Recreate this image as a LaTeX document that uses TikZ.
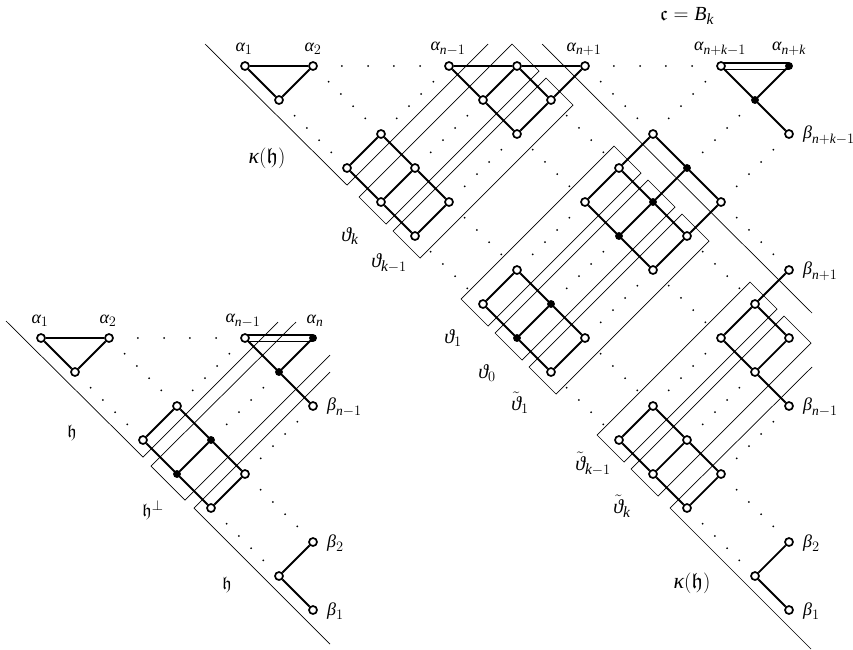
\documentclass[tikz,border=0pt]{standalone}
\usetikzlibrary{backgrounds}
\usepackage{amsmath,amssymb}
\usepackage{fontspec}
\setmainfont{Liberation Serif}
\DeclareMathSizes{18}{18}{13.5}{10}
\DeclareMathSizes{20}{20}{15.5}{11}
\DeclareMathSizes{22}{22}{16}{11}
\newcommand{\Ga}{\hbox{\itshape α}}
\newcommand{\Gb}{\hbox{\itshape β}}
\newcommand{\Gt}{\hbox{\itshape ϑ}}
\newcommand{\Gk}{\hbox{\itshape κ}}
\newcommand{\NN}{\mathit{n}}
\newcommand{\KK}{\mathit{k}}
\tikzset{
  x=1pt,y=-1pt,
  thinline/.style={line width=0.7pt,black},
  edge/.style={line width=1.8pt,black},
  dbl/.style={line width=1.4pt,black,double=white,double distance=5pt,shorten <=-4pt,shorten >=-4pt},
  opn/.style={circle,draw=black,fill=white,line width=1.7pt,inner sep=0pt,minimum size=8pt},
  fil/.style={circle,draw=black,fill=black,line width=0.8pt,inner sep=0pt,minimum size=7pt},
  lab/.style={inner sep=0pt,font=\fontsize{18}{21}\selectfont},
  labr/.style={lab,anchor=west},
  labb/.style={inner sep=0pt,font=\fontsize{20}{23}\selectfont},
  labk/.style={inner sep=0pt,font=\fontsize{22}{25}\selectfont},
}
\begin{document}
\begin{tikzpicture}
\useasboundingbox (0,0) rectangle (853,649);
% thin region lines
\coordinate (ka) at (205,44); \coordinate (kb) at (347,185); \coordinate (kc) at (488,44);
\draw[thinline] (ka) -- (kb) -- (kc);
\coordinate (ra1) at (512,44); \coordinate (ra2) at (539,71); \coordinate (ra3) at (386,224); \coordinate (ra4) at (359,197);
\draw[thinline] (ra1) -- (ra2) -- (ra3) -- (ra4) -- cycle;
\coordinate (rb1) at (546,78); \coordinate (rb2) at (573,105); \coordinate (rb3) at (420,258); \coordinate (rb4) at (393,231);
\draw[thinline] (rb1) -- (rb2) -- (rb3) -- (rb4) -- cycle;
\coordinate (m1) at (542,44); \coordinate (m2) at (812,313);
\draw[thinline] (m1) -- (m2);
\coordinate (rc1) at (614,146); \coordinate (rc2) at (641,173); \coordinate (rc3) at (488,326); \coordinate (rc4) at (461,299);
\draw[thinline] (rc1) -- (rc2) -- (rc3) -- (rc4) -- cycle;
\coordinate (rd1) at (648,180); \coordinate (rd2) at (675,207); \coordinate (rd3) at (522,360); \coordinate (rd4) at (495,333);
\draw[thinline] (rd1) -- (rd2) -- (rd3) -- (rd4) -- cycle;
\coordinate (re1) at (682,214); \coordinate (re2) at (709,241); \coordinate (re3) at (556,394); \coordinate (re4) at (529,367);
\draw[thinline] (re1) -- (re2) -- (re3) -- (re4) -- cycle;
\coordinate (rf1) at (750,282); \coordinate (rf2) at (777,309); \coordinate (rf3) at (624,462); \coordinate (rf4) at (597,435);
\draw[thinline] (rf1) -- (rf2) -- (rf3) -- (rf4) -- cycle;
\coordinate (rg1) at (784,316); \coordinate (rg2) at (811,343); \coordinate (rg3) at (658,496); \coordinate (rg4) at (631,469);
\draw[thinline] (rg1) -- (rg2) -- (rg3) -- (rg4) -- cycle;
\coordinate (ea) at (812,367); \coordinate (eb) at (670,508); \coordinate (ec) at (811,649);
\draw[thinline] (ea) -- (eb) -- (ec);
% left picture thin lines
\coordinate (la) at (6,321); \coordinate (lb) at (143,457); \coordinate (lc) at (278,322);
\draw[thinline] (la) -- (lb) -- (lc);
\coordinate (pa) at (296,322); \coordinate (pb) at (151,466); \coordinate (pc) at (185,500); \coordinate (pd) at (330,355);
\draw[thinline] (pa) -- (pb) -- (pc) -- (pd);
\coordinate (qa) at (330,372); \coordinate (qb) at (194,508); \coordinate (qc) at (330,644);
\draw[thinline] (qa) -- (qb) -- (qc);
% dots
\foreach \a/\b/\c/\d in {313/66/449/66,585/66/721/66,109/338/245/338}
  \foreach \t in {0.213,0.405,0.595,0.787}
    \fill ({\a+\t*(\c-\a)},{\b+\t*(\d-\b)}) circle (1pt);
\foreach \a/\b/\c/\d in {
  313/66/381/134,449/66/381/134,279/100/347/168,483/100/415/168,
  517/134/449/202,449/202/517/270,415/236/483/304,585/66/653/134,
  721/66/653/134,551/100/619/168,517/134/585/202,755/100/687/168,
  789/134/721/202,585/202/517/270,619/236/551/304,653/270/585/338,
  721/202/789/270,687/236/755/304,653/270/721/338,585/338/653/406,
  551/372/619/440,721/338/653/406,755/372/687/440,789/406/721/474,
  721/474/789/542,687/508/755/576,
  109/338/177/406,245/338/177/406,75/372/143/440,279/372/211/440,
  313/406/245/474,245/474/313/542,211/508/279/576}
  \foreach \t in {0.23,0.41,0.59,0.77}
    \fill ({\a+\t*(\c-\a)},{\b+\t*(\d-\b)}) circle (1pt);
% open nodes
\foreach \x/\y in {245/66,313/66,279/100,449/66,517/66,483/100,517/134,585/66,551/100,
  721/66,789/134,381/134,347/168,415/168,381/202,449/202,415/236,
  653/134,619/168,585/202,721/202,687/236,653/270,789/270,755/304,
  517/270,483/304,585/338,551/372,721/338,789/338,755/372,789/406,
  653/406,619/440,687/440,653/474,721/474,687/508,789/542,755/576,789/610,
  41/338,109/338,75/372,245/338,313/406,177/406,143/440,245/474,211/508,313/542,279/576,313/610}
  \node[opn] (p\x-\y) at (\x,\y) {};
% filled nodes
\foreach \x/\y in {789/66,755/100,687/168,653/202,619/236,551/304,517/338,
  313/338,279/372,211/440,177/474}
  \node[fil] (p\x-\y) at (\x,\y) {};
% double edges, behind the nodes
\begin{scope}[on background layer]
\draw[dbl] (p721-66) -- (p789-66);
\draw[dbl] (p245-338) -- (p313-338);
\end{scope}
% edges, big picture
\draw[edge] (p245-66) -- (p313-66);
\draw[edge] (p245-66) -- (p279-100) -- (p313-66);
\draw[edge] (p449-66) -- (p517-66);
\draw[edge] (p517-66) -- (p585-66);
\draw[edge] (p449-66) -- (p483-100);
\draw[edge] (p483-100) -- (p517-134);
\draw[edge] (p517-66) -- (p483-100);
\draw[edge] (p517-66) -- (p551-100);
\draw[edge] (p585-66) -- (p551-100);
\draw[edge] (p551-100) -- (p517-134);
\draw[edge] (p721-66) -- (p755-100);
\draw[edge] (p789-66) -- (p755-100);
\draw[edge] (p755-100) -- (p789-134);
\draw[edge] (p381-134) -- (p347-168);
\draw[edge] (p381-134) -- (p415-168);
\draw[edge] (p415-168) -- (p449-202);
\draw[edge] (p347-168) -- (p381-202);
\draw[edge] (p381-202) -- (p415-236);
\draw[edge] (p415-168) -- (p381-202);
\draw[edge] (p449-202) -- (p415-236);
\draw[edge] (p653-134) -- (p619-168);
\draw[edge] (p619-168) -- (p585-202);
\draw[edge] (p653-134) -- (p687-168);
\draw[edge] (p687-168) -- (p721-202);
\draw[edge] (p619-168) -- (p653-202);
\draw[edge] (p653-202) -- (p687-236);
\draw[edge] (p585-202) -- (p619-236);
\draw[edge] (p619-236) -- (p653-270);
\draw[edge] (p687-168) -- (p653-202);
\draw[edge] (p653-202) -- (p619-236);
\draw[edge] (p721-202) -- (p687-236);
\draw[edge] (p687-236) -- (p653-270);
\draw[edge] (p517-270) -- (p483-304);
\draw[edge] (p517-270) -- (p551-304);
\draw[edge] (p551-304) -- (p585-338);
\draw[edge] (p483-304) -- (p517-338);
\draw[edge] (p517-338) -- (p551-372);
\draw[edge] (p551-304) -- (p517-338);
\draw[edge] (p585-338) -- (p551-372);
\draw[edge] (p789-270) -- (p755-304);
\draw[edge] (p755-304) -- (p721-338);
\draw[edge] (p755-304) -- (p789-338);
\draw[edge] (p721-338) -- (p755-372);
\draw[edge] (p755-372) -- (p789-406);
\draw[edge] (p789-338) -- (p755-372);
\draw[edge] (p653-406) -- (p619-440);
\draw[edge] (p653-406) -- (p687-440);
\draw[edge] (p687-440) -- (p721-474);
\draw[edge] (p619-440) -- (p653-474);
\draw[edge] (p653-474) -- (p687-508);
\draw[edge] (p687-440) -- (p653-474);
\draw[edge] (p721-474) -- (p687-508);
\draw[edge] (p789-542) -- (p755-576);
\draw[edge] (p755-576) -- (p789-610);
% edges, left picture
\draw[edge] (p41-338) -- (p109-338);
\draw[edge] (p41-338) -- (p75-372);
\draw[edge] (p75-372) -- (p109-338);
\draw[edge] (p245-338) -- (p279-372);
\draw[edge] (p279-372) -- (p313-406);
\draw[edge] (p313-338) -- (p279-372);
\draw[edge] (p177-406) -- (p143-440);
\draw[edge] (p177-406) -- (p211-440);
\draw[edge] (p211-440) -- (p245-474);
\draw[edge] (p143-440) -- (p177-474);
\draw[edge] (p177-474) -- (p211-508);
\draw[edge] (p211-440) -- (p177-474);
\draw[edge] (p245-474) -- (p211-508);
\draw[edge] (p313-542) -- (p279-576);
\draw[edge] (p279-576) -- (p313-610);
% labels, big picture
\node[lab] (t1) at (244,49) {$\Ga_1$};
\node[lab] (t2) at (313,49) {$\Ga_2$};
\node[lab] (t3) at (448,49) {$\Ga_{\NN-1}$};
\node[lab] (t4) at (584,49) {$\Ga_{\NN+1}$};
\node[lab] (t5) at (720,49) {$\Ga_{\NN+\KK-1}$};
\node[lab] (t6) at (789,49) {$\Ga_{\NN+\KK}$};
\node[labb] (t7) at (687,16) {$\mathfrak{c}=\mathit{B}_{\KK}$};
\node[labr] (t8) at (803,135) {$\Gb_{\NN+\KK-1}$};
\node[labr] (t9) at (803,271) {$\Gb_{\NN+1}$};
\node[labr] (t10) at (803,407) {$\Gb_{\NN-1}$};
\node[labr] (t11) at (803,543) {$\Gb_2$};
\node[labr] (t12) at (803,611) {$\Gb_1$};
\node[labk] (t13) at (267,158) {$\Gk(\mathfrak{h})$};
\node[labb] (t14) at (350,236) {$\Gt_{\KK}$};
\node[labb] (t15) at (389,263) {$\Gt_{\KK-1}$};
\node[labb] (t16) at (453,338) {$\Gt_1$};
\node[labb] (t17) at (487,373) {$\Gt_0$};
\node[labb] (t18) at (520,403) {$\tilde{\Gt}_1$};
\node[labb] (t19) at (593,464) {$\tilde{\Gt}_{\KK-1}$};
\node[labb] (t20) at (622,506) {$\tilde{\Gt}_{\KK}$};
\node[labk] (t21) at (692,583) {$\Gk(\mathfrak{h})$};
% labels, left picture
\node[lab] (u1) at (40,321) {$\Ga_1$};
\node[lab] (u2) at (108,321) {$\Ga_2$};
\node[lab] (u3) at (243,321) {$\Ga_{\NN-1}$};
\node[lab] (u4) at (315,321) {$\Ga_{\NN}$};
\node[labr] (u5) at (327,407) {$\Gb_{\NN-1}$};
\node[labr] (u6) at (327,543) {$\Gb_2$};
\node[labr] (u7) at (327,611) {$\Gb_1$};
\node[lab] (u8) at (72,433) {$\mathfrak{h}$};
\node[lab] (u9) at (153,510) {$\mathfrak{h}^{\perp}$};
\node[lab] (u10) at (227,585) {$\mathfrak{h}$};
\end{tikzpicture}
\end{document}
